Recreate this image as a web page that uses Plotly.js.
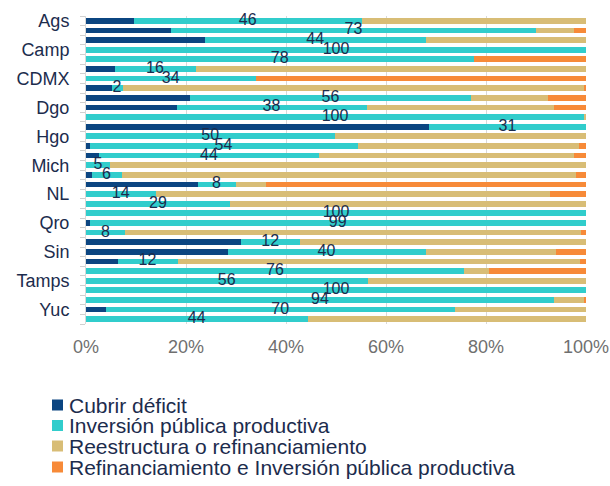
<!DOCTYPE html>
<html>
<head>
<meta charset="utf-8">
<script src="https://cdn.plot.ly/plotly-3.0.1.min.js"></script>
<style>html,body{margin:0;padding:0;background:#fff;}#chart{width:610px;height:486px;}</style>
</head>
<body>
<div id="chart"></div>
<script>
// Categories (top to bottom)
const states = ['Ags','BC','BCS','Camp','Chis','Chih','CDMX','Coah','Col','Dgo','Gto','Gro','Hgo','Jal','Mex','Mich','Mor','Nay','NL','Oax','Pue','Qro','QRoo','SLP','Sin','Son','Tab','Tamps','Tlax','Ver','Yuc','Zac'];
// Series values (% of total)
const cubrirDeficit   = [9.5,17,23.7,0,0,5.7,0,5.1,20.8,18.1,0,68.6,0,0.7,2.6,0,1.1,22.3,0,0,0,0.7,0,30.9,28.3,6.3,0,0,0,0,3.9,0];
const inversion       = [45.7,73,44.3,100,77.5,16.2,33.9,2.2,56.2,38,99.6,31.4,49.7,53.6,44,4.8,6,7.6,13.9,28.8,100,99.3,7.8,11.9,39.6,12,75.6,56.3,100,93.6,69.9,44.3];
const reestructura    = [44.8,7.5,32,0,0,78.1,0,92.2,15.3,37.4,0.4,0,50.3,44.2,51,95.2,90.8,6,78.8,71.2,0,0,91.1,57.2,26,80.5,4.9,43.7,0,6,26.2,55.7];
const refinanciamiento= [0,2.5,0,0,22.5,0,66.1,0.5,7.7,6.5,0,0,0,1.5,2.4,0,2.1,64.1,7.3,0,0,0,1.1,0,6.1,1.2,19.5,0,0,0.4,0,0];
const seriesNames = ['Cubrir déficit','Inversión pública productiva','Reestructura o refinanciamiento','Refinanciamiento e Inversión pública productiva'];
const xTickVals = [0,20,40,60,80,100];
const xTickText = ['0%','20%','40%','60%','80%','100%'];

const colors = ['#0b4581','#31cdcc','#d8bd76','#f78a38'];
const FONT = 'Liberation Sans, Arial, sans-serif';
const TXT = '#1c2c4d';

const idx = states.map((s,i)=>i);
const labelIdx = idx.filter(i => i % 3 === 0);
const seriesVals = [cubrirDeficit, inversion, reestructura, refinanciamiento];

const traces = seriesVals.map((vals,k)=>({
  type:'bar', orientation:'h', name: seriesNames[k],
  x: vals, y: idx, customdata: states,
  marker:{color: colors[k], line:{width:0}},
  hovertemplate:'%{customdata}: %{x}%<extra>'+seriesNames[k]+'</extra>',
  showlegend:false
}));
// Data labels: value of "Inversión pública productiva", centered in its segment
traces.push({
  type:'scatter', mode:'text',
  x: inversion.map((v,i)=> cubrirDeficit[i] + v/2),
  y: idx,
  text: inversion.map(v => String(Math.round(v))),
  textposition:'middle center',
  textfont:{family:FONT, size:16, color:TXT},
  cliponaxis:false, hoverinfo:'skip', showlegend:false
});

// Legend drawn as shapes + annotations (tight Excel-like spacing)
const legY = [405, 425.5, 446, 467];
const pyToPaper = py => (324 - py)/308;
const pxToPaper = px => (px - 86)/500;
const shapes = [], annotations = [];
seriesNames.forEach((n,k)=>{
  const yc = pyToPaper(legY[k]);
  shapes.push({type:'rect', xref:'paper', yref:'paper',
    x0:pxToPaper(52), x1:pxToPaper(63), y0:yc-5.5/308, y1:yc+5.5/308,
    fillcolor:colors[k], line:{width:0}});
  annotations.push({xref:'paper', yref:'paper', x:pxToPaper(67), y:yc,
    xanchor:'left', yanchor:'middle', showarrow:false, text:n,
    font:{family:FONT, size:21, color:TXT}});
});

const layout = {
  width:610, height:486,
  margin:{l:86, r:24, t:16, b:162},
  paper_bgcolor:'#fff', plot_bgcolor:'#fff',
  barmode:'stack', bargap:0.4,
  showlegend:false,
  font:{family:FONT, color:TXT},
  xaxis:{range:[0,100], tickvals:xTickVals, ticktext:xTickText,
    showgrid:true, gridcolor:'#d9d9d9', gridwidth:1, zeroline:false,
    ticks:'', ticklabelstandoff:10,
    tickfont:{family:FONT, size:18, color:'#6f6f6f'}, fixedrange:true},
  yaxis:{range:[31.5,-0.5], tickmode:'array', tickvals:labelIdx,
    ticktext:labelIdx.map(i=>states[i]), ticks:'', showgrid:false, zeroline:false,
    showline:true, linecolor:'#d9d9d9', linewidth:1,
    ticklabelstandoff:12,
    minor:{tick0:0.5, dtick:1, ticks:'outside', ticklen:5, tickcolor:'#d0d0d0', showgrid:false},
    tickfont:{family:FONT, size:18, color:TXT}, fixedrange:true},
  shapes: shapes,
  annotations: annotations
};

Plotly.newPlot('chart', traces, layout, {displayModeBar:false, staticPlot:true});
</script>
</body>
</html>
